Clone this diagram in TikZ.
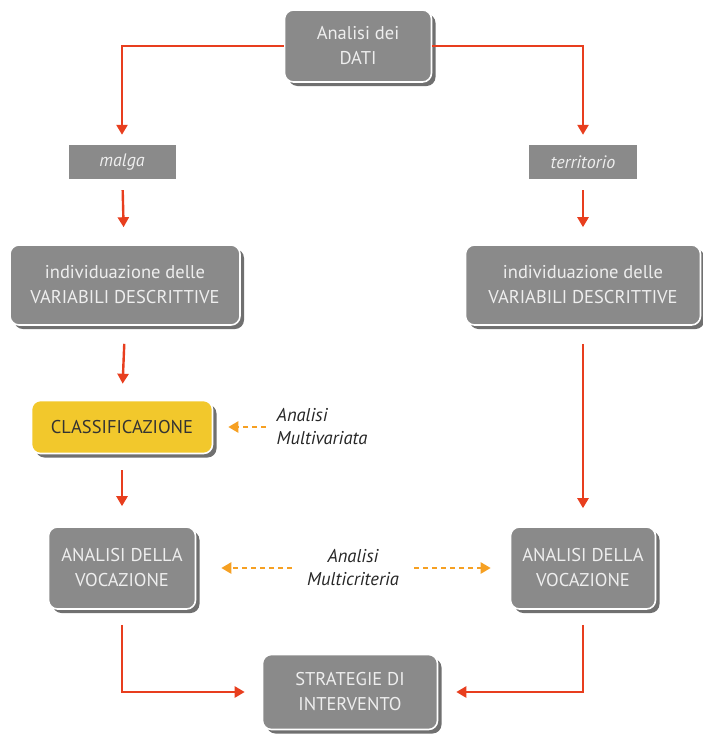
\documentclass[tikz,border=0pt]{standalone}
\usepackage{fontspec}
\setmainfont{PT Sans}
\usepackage{tikz}
\usetikzlibrary{calc, arrows.meta, shadows}
\definecolor{boxgray}{RGB}{138,138,138}
\definecolor{boxtext}{RGB}{238,238,238}
\definecolor{flowred}{RGB}{232,62,30}
\definecolor{dashorange}{RGB}{246,160,34}
\definecolor{classyellow}{RGB}{242,200,44}
\tikzstyle{block}     = [rectangle, rounded corners=9pt, fill=boxgray, draw=white, line width=1.6pt,
                         text=boxtext, align=center, font=\fontsize{18.5}{25}\selectfont,
                         drop shadow={shadow xshift=4pt, shadow yshift=-4pt, fill=black!70, opacity=0.8}]
\tikzstyle{tag}       = [rectangle, fill=boxgray, text=boxtext, font=\fontsize{18}{22}\selectfont\itshape,
                         minimum height=34pt]
\tikzstyle{note}      = [align=left, text=black!85, font=\fontsize{18.5}{23}\selectfont\itshape]
\tikzstyle{arrow}     = [flowred, line width=2.4pt, -{Triangle[width=11pt,length=10pt]}]
\tikzstyle{dasharrow} = [dashorange, line width=2.4pt, dash pattern=on 5pt off 4pt,
                         -{Triangle[width=11pt,length=10pt]}]

\begin{document}
\begin{tikzpicture}[x=1pt, y=-1pt]
  \useasboundingbox (0,0) rectangle (703,739);

  %top of the scheme
  \node[block, minimum width=147pt, minimum height=72pt] (dati) at (358,46) {Analisi dei\\DATI};

  %the two branches
  \node[tag, minimum width=107pt] (malga) at (122,162) {malga};
  \node[tag, minimum width=108pt] (territorio) at (583,162) {territorio};
  \node[block, minimum width=230pt, minimum height=80pt] (varL) at (125,285) {individuazione delle\\VARIABILI DESCRITTIVE};
  \node[block, minimum width=235pt, minimum height=80pt] (varR) at (583,285) {individuazione delle\\VARIABILI DESCRITTIVE};
  \node[block, fill=classyellow, text=black!80, minimum width=181pt, minimum height=53pt] (class) at (122,427) {CLASSIFICAZIONE};
  \node[note] (multivar) at (322,427) {Analisi\\Multivariata};
  \node[block, minimum width=147pt, minimum height=82pt] (vocL) at (122,568) {ANALISI DELLA\\VOCAZIONE};
  \node[block, minimum width=145pt, minimum height=82pt] (vocR) at (583,568) {ANALISI DELLA\\VOCAZIONE};
  \node[note, align=center] (multicrit) at (353,568) {Analisi\\Multicriteria};

  %bottom of the scheme
  \node[block, minimum width=175pt, minimum height=75pt] (strat) at (350,692) {STRATEGIE DI\\INTERVENTO};

  %red flow
  \draw[arrow, shorten >=10pt] (dati.west) -| (malga.north);
  \draw[arrow, shorten >=10pt] (dati.east) -| (territorio.north);
  \draw[arrow, shorten <=11pt, shorten >=17pt] (malga) -- (varL);
  \draw[arrow, shorten <=11pt, shorten >=17pt] (territorio) -- (varR);
  \draw[arrow, shorten <=18pt, shorten >=16pt] (varL.south) -- (class.north);
  \draw[arrow, shorten <=16pt, shorten >=20pt] (class.south) -- (vocL.north);
  \draw[arrow, shorten <=18pt, shorten >=18pt] (varR.south) -- (vocR.north);
  \draw[arrow, shorten <=15pt, shorten >=17pt] (vocL.south) |- (strat.west);
  \draw[arrow, shorten <=15pt, shorten >=18pt] (vocR.south) |- (strat.east);

  %orange dashed links
  \draw[dasharrow, shorten <=7pt, shorten >=15pt] (multivar.west) -- (class.east);
  \draw[dasharrow, shorten <=12pt, shorten >=25pt] (multicrit.west) -- (vocL.east);
  \draw[dasharrow, shorten <=12pt, shorten >=19pt] (multicrit.east) -- (vocR.west);
\end{tikzpicture}
\end{document}
